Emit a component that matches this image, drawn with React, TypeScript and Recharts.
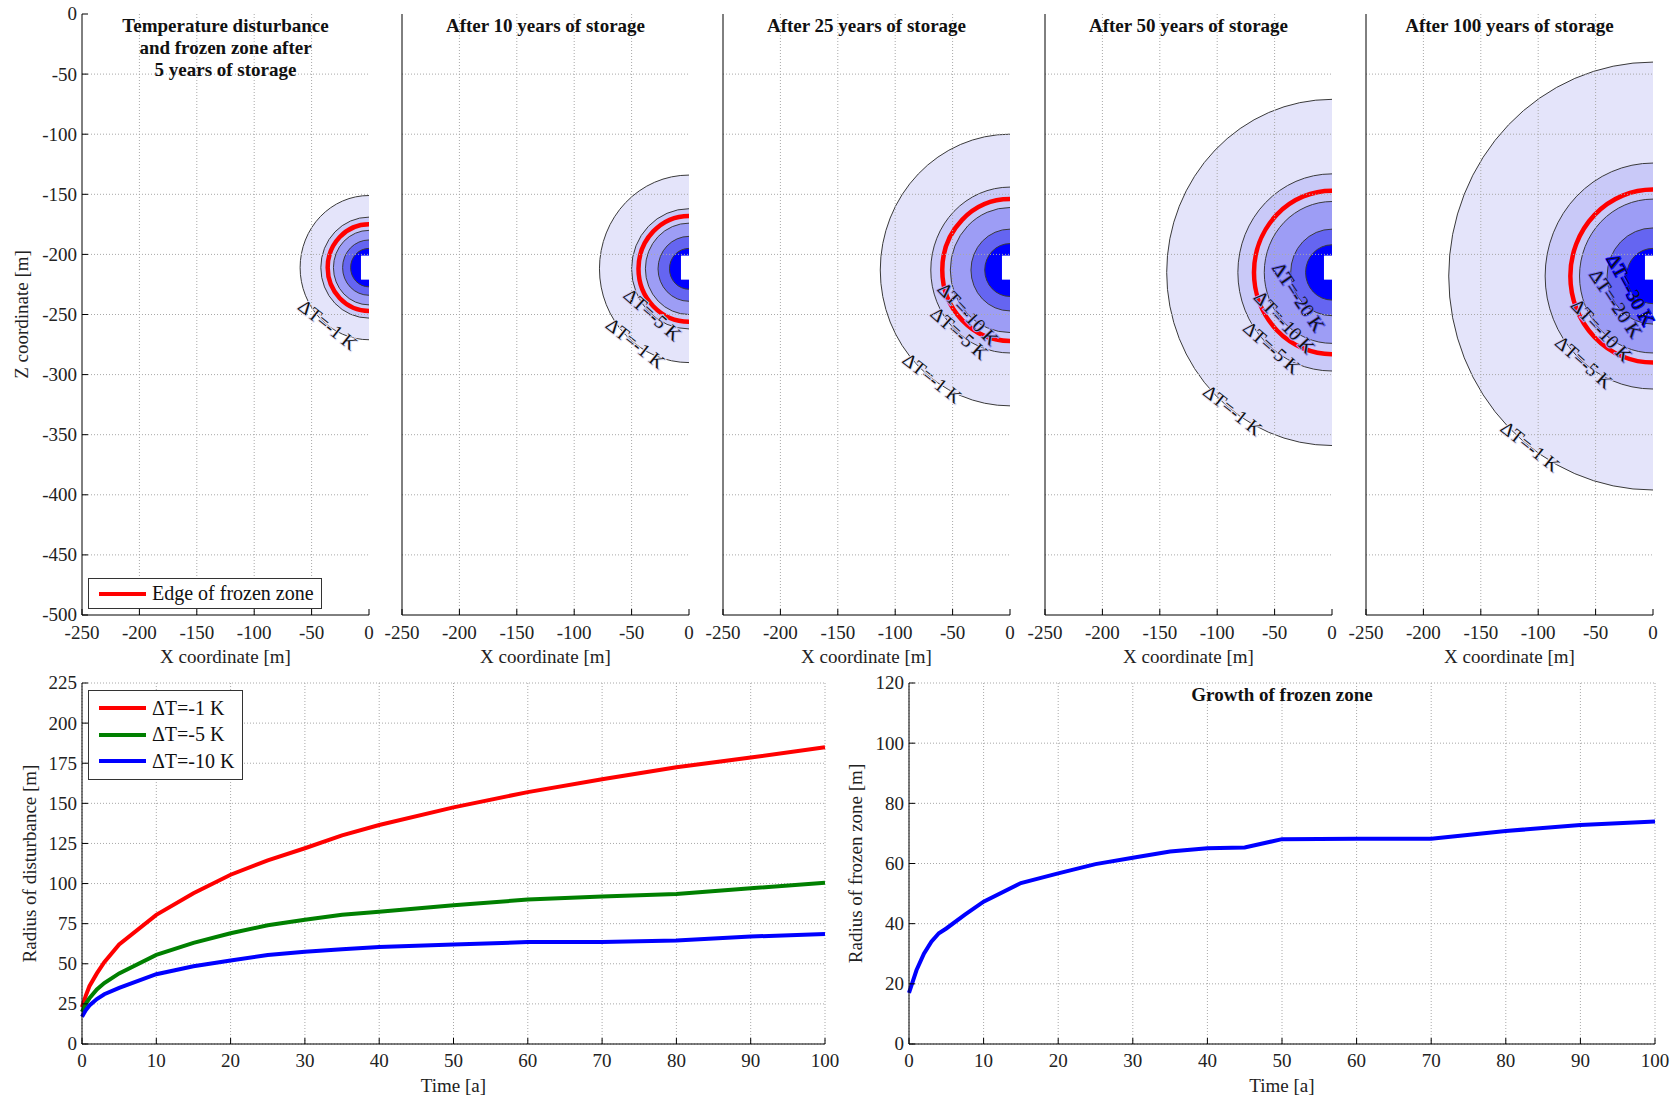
import React from 'react';
import {
  ComposedChart,
  LineChart,
  Line,
  XAxis,
  YAxis,
  CartesianGrid,
  ReferenceArea,
  ReferenceLine,
  Legend,
} from 'recharts';

const FONT = '"Liberation Serif", "Times New Roman", Times, serif';

// ---------- top row: isotherms around the repository, one entry per panel ----------
const panelTitles = [
  ['Temperature disturbance', 'and frozen zone after', '5 years of storage'],
  ['After 10 years of storage'],
  ['After 25 years of storage'],
  ['After 50 years of storage'],
  ['After 100 years of storage'],
];
const isotherms = [-1, -5, -10, -20, -30]; // ΔT [K]
const isoCentreZ = [-211, -212, -213, -215, -218];
const radius1K = [60, 78, 113, 144, 178];
const radius5K = [42, 50, 69, 82, 94];
const radius10K = [31, 38, 52, 59, 64];
const radius20K = [23, 27, 34, 36, 40];
const radius30K = [16, 17, 22, 23, 23];
const frozenEdgeRadius = [36, 44, 59, 68, 72];
const labelledIsotherms = [[-1], [-5, -1], [-10, -5, -1], [-20, -10, -5, -1], [-30, -20, -10, -5, -1]];
const repositoryX = [-7, 0];
const repositoryZ = [-221, -201];
const xCoordTicks = [-250, -200, -150, -100, -50, 0];
const zCoordTicks = [0, -50, -100, -150, -200, -250, -300, -350, -400, -450, -500];

const radiiByIsotherm = [radius1K, radius5K, radius10K, radius20K, radius30K];

// ---------- bottom left: radius of disturbance ----------
const timeA = [0, 0.5, 1, 2, 3, 5, 10, 15, 20, 25, 30, 35, 40, 50, 60, 70, 80, 90, 100];
const dist1K = [23, 30, 36, 44, 51, 62, 80.5, 94, 105.5, 114.5, 122, 130, 136.5, 147.5, 157, 165, 172.5, 178.5, 185];
const dist5K = [20, 25, 28.5, 34, 38, 44, 55.5, 63, 69, 74, 77.5, 80.5, 82.5, 86.5, 90, 92, 93.5, 97, 100.5];
const dist10K = [17, 21, 24, 28, 31, 35, 43.5, 48.5, 52, 55.5, 57.5, 59, 60.5, 62, 63.5, 63.5, 64.5, 67, 68.5];
const disturbanceSeries = ['ΔT=-1 K', 'ΔT=-5 K', 'ΔT=-10 K'];
const timeTicks = [0, 10, 20, 30, 40, 50, 60, 70, 80, 90, 100];
const distTicks = [0, 25, 50, 75, 100, 125, 150, 175, 200, 225];

// ---------- bottom right: radius of frozen zone ----------
const frozenT = [0, 1, 2, 3, 4, 5, 7.5, 10, 15, 20, 25, 30, 35, 40, 45, 50, 60, 70, 80, 90, 100];
const frozenR = [17, 24.5, 30, 34, 36.8, 38.4, 43, 47.3, 53.5, 56.7, 59.8, 61.9, 64, 65.1, 65.3, 68.1, 68.2, 68.2, 70.8, 72.8, 74];
const frozenTicks = [0, 20, 40, 60, 80, 100, 120];

const disturbance = timeA.map((t, i) => ({ t, k1: dist1K[i], k5: dist5K[i], k10: dist10K[i] }));
const frozen = frozenT.map((t, i) => ({ t, r: frozenR[i] }));

// ---------- styling / layout ----------
const bandFill = ['#e4e4fa', '#c9c9f8', '#9d9df5', '#6565f1', '#0000ff'];
const labelAngle = [53, 50, 45, 35, 30];
const panelLeft = [82, 402, 723, 1045, 1366];
const TOP_Y = 14;
const TOP_W = 287;
const TOP_H = 601;
const AXIS_W = 80;
const GRID = '#a8a8a8';

const labelStyle = { fill: '#222', fontSize: 19, fontFamily: FONT };

// serif tick text (bottom axes centred below the tick, left axes right-aligned)
const serifTick = (anchor: 'middle' | 'end') => (p: any) => (
  <text
    x={p.x}
    y={p.y}
    dy={anchor === 'middle' ? '0.71em' : '0.34em'}
    textAnchor={anchor}
    fill="#222"
    style={{ fontFamily: FONT, fontSize: 19 }}
  >
    {p.payload.value}
  </text>
);

const halfDisc = (fill: string, stroke: string, width: number, filled = true) => (p: any) => {
  const { x, y, width: w, height: h } = p;
  const arc = `M${x + w},${y} A${w},${h / 2} 0 0 0 ${x + w},${y + h}`;
  return (
    <g>
      {filled && <path d={`${arc} Z`} fill={fill} stroke="none" />}
      <path d={arc} fill="none" stroke={stroke} strokeWidth={width} />
    </g>
  );
};

const contourLabel = (text: string, deg: number, halo: string) => (p: any) => {
  const { x, y, width: w, height: h } = p;
  const a = (deg * Math.PI) / 180;
  const px = x + w - w * Math.cos(a);
  const py = y + h / 2 + (h / 2) * Math.sin(a);
  const rot = (Math.atan2((h / 2) * Math.cos(a), w * Math.sin(a)) * 180) / Math.PI;
  return (
    <g transform={`rotate(${rot} ${px} ${py})`}>
      <text x={px} y={py + 6} textAnchor="middle" style={{ fontFamily: FONT, fontSize: 19 }} fill={halo} stroke={halo} strokeWidth={2}>
        {text}
      </text>
      <text x={px} y={py + 6} textAnchor="middle" style={{ fontFamily: FONT, fontSize: 19 }} fill="#111">
        {text}
      </text>
    </g>
  );
};

function ContourPanel({ i }: { i: number }) {
  const c = isoCentreZ[i];
  return (
    <div style={{ position: 'absolute', left: panelLeft[i] - AXIS_W, top: 0, fontFamily: FONT }}>
      <ComposedChart
        width={AXIS_W + TOP_W + 25}
        height={TOP_Y + TOP_H + 60}
        margin={{ top: TOP_Y, right: 25, bottom: 0, left: 0 }}
        data={[]}
      >
        <XAxis
          type="number"
          dataKey="x"
          domain={[-250, 0]}
          ticks={xCoordTicks}
          allowDataOverflow
          height={60}
          stroke="#000"
          tick={serifTick('middle')}
          tickSize={-6}
          tickMargin={17}
          label={{ value: 'X coordinate [m]', position: 'insideBottom', offset: 12, ...labelStyle }}
        />
        <XAxis xAxisId="top" orientation="top" type="number" domain={[-250, 0]} ticks={xCoordTicks} height={0} tick={false} tickSize={-6} stroke="#000" />
        <YAxis
          type="number"
          domain={[-500, 0]}
          ticks={zCoordTicks}
          allowDataOverflow
          width={AXIS_W}
          stroke="#000"
          tick={i === 0 ? serifTick('end') : false}
          tickSize={-6}
          tickMargin={11}
          label={
            i === 0
              ? { value: 'Z coordinate [m]', angle: -90, position: 'insideLeft', offset: 19, ...labelStyle, style: { textAnchor: 'middle' } }
              : undefined
          }
        />
        <YAxis yAxisId="right" orientation="right" type="number" domain={[-500, 0]} ticks={zCoordTicks} width={0} tick={false} tickSize={-6} stroke="#000" />

        {isotherms.map((t, k) => {
          const r = radiiByIsotherm[k][i];
          return (
            <ReferenceArea
              key={`iso${t}`}
              x1={-r}
              x2={0}
              y1={c - r}
              y2={c + r}
              ifOverflow="visible"
              shape={halfDisc(bandFill[k], '#3a3a3a', 1)}
            />
          );
        })}
        <ReferenceArea
          x1={-frozenEdgeRadius[i]}
          x2={0}
          y1={c - frozenEdgeRadius[i]}
          y2={c + frozenEdgeRadius[i]}
          ifOverflow="visible"
          shape={halfDisc('none', '#ff0000', 4.5, false)}
        />
        <ReferenceArea
          x1={repositoryX[0]}
          x2={repositoryX[1]}
          y1={repositoryZ[0]}
          y2={repositoryZ[1]}
          ifOverflow="visible"
          fill="#ffffff"
          fillOpacity={1}
          stroke="none"
        />

        {xCoordTicks.slice(1, -1).map((v) => (
          <ReferenceLine key={`gx${v}`} x={v} stroke={GRID} strokeDasharray="1 2" />
        ))}
        {zCoordTicks.slice(1, -1).map((v) => (
          <ReferenceLine key={`gz${v}`} y={v} stroke={GRID} strokeDasharray="1 2" />
        ))}

        {labelledIsotherms[i].map((t) => {
          const k = isotherms.indexOf(t);
          const r = radiiByIsotherm[k][i];
          return (
            <ReferenceArea
              key={`lab${t}`}
              x1={-r}
              x2={0}
              y1={c - r}
              y2={c + r}
              ifOverflow="visible"
              shape={contourLabel(`ΔT=${t} K`, labelAngle[k], bandFill[k])}
            />
          );
        })}
      </ComposedChart>
      <div
        style={{
          position: 'absolute',
          left: AXIS_W,
          top: 15,
          width: TOP_W,
          textAlign: 'center',
          fontFamily: FONT,
          fontWeight: 'bold',
          fontSize: 19,
          lineHeight: '22px',
          color: '#111',
        }}
      >
        {panelTitles[i].map((line) => (
          <div key={line}>{line}</div>
        ))}
      </div>
    </div>
  );
}

function DisturbanceLegend({ payload }: any) {
  const items = [...(payload || [])].sort(
    (a: any, b: any) => disturbanceSeries.indexOf(a.value) - disturbanceSeries.indexOf(b.value)
  );
  return (
    <div style={{ border: '1px solid #333', background: '#fff', padding: '4px 8px 4px 10px', fontFamily: FONT, fontSize: 20, color: '#111' }}>
      {items.map((e: any) => (
        <div key={e.value} style={{ display: 'flex', alignItems: 'center', height: 26.5 }}>
          <span style={{ display: 'inline-block', width: 47, height: 4, background: e.color, marginRight: 6 }} />
          {e.value}
        </div>
      ))}
    </div>
  );
}

function DisturbanceChart() {
  const left = 82 - AXIS_W;
  return (
    <div style={{ position: 'absolute', left, top: 640, fontFamily: FONT }}>
      <LineChart width={AXIS_W + 743 + 30} height={43 + 361 + 53} data={disturbance} margin={{ top: 43, right: 30, bottom: 0, left: 0 }}>
        <CartesianGrid stroke={GRID} strokeDasharray="1 2" />
        <XAxis
          type="number"
          dataKey="t"
          domain={[0, 100]}
          ticks={timeTicks}
          height={53}
          stroke="#000"
          tick={serifTick('middle')}
          tickSize={-6}
          tickMargin={16}
          label={{ value: 'Time [a]', position: 'insideBottom', offset: 5, ...labelStyle }}
        />
        <XAxis xAxisId="top" orientation="top" type="number" dataKey="t" domain={[0, 100]} ticks={timeTicks} height={0} tick={false} tickSize={-6} stroke="#000" />
        <YAxis
          type="number"
          domain={[0, 225]}
          ticks={distTicks}
          width={AXIS_W}
          stroke="#000"
          tick={serifTick('end')}
          tickSize={-6}
          tickMargin={11}
          label={{ value: 'Radius of disturbance [m]', angle: -90, position: 'insideLeft', offset: 27, ...labelStyle, style: { textAnchor: 'middle' } }}
        />
        <YAxis yAxisId="right" orientation="right" type="number" domain={[0, 225]} ticks={distTicks} width={0} tick={false} tickSize={-6} stroke="#000" />
        <Line type="linear" dataKey="k1" name={disturbanceSeries[0]} stroke="#ff0000" strokeWidth={4} dot={false} isAnimationActive={false} />
        <Line type="linear" dataKey="k5" name={disturbanceSeries[1]} stroke="#008000" strokeWidth={4} dot={false} isAnimationActive={false} />
        <Line type="linear" dataKey="k10" name={disturbanceSeries[2]} stroke="#0000ff" strokeWidth={4} dot={false} isAnimationActive={false} />
        <Legend
          layout="vertical"
          align="center"
          verticalAlign="middle"
          wrapperStyle={{ left: 88 - left, top: 690 - 640, width: 'auto', height: 'auto' }}
          content={(props: any) => <DisturbanceLegend payload={props.payload} />}
        />
      </LineChart>
    </div>
  );
}

function FrozenChart() {
  const left = 909 - AXIS_W;
  return (
    <div style={{ position: 'absolute', left, top: 640, fontFamily: FONT }}>
      <LineChart width={AXIS_W + 746 + 20} height={43 + 361 + 53} data={frozen} margin={{ top: 43, right: 20, bottom: 0, left: 0 }}>
        <CartesianGrid stroke={GRID} strokeDasharray="1 2" />
        <XAxis
          type="number"
          dataKey="t"
          domain={[0, 100]}
          ticks={timeTicks}
          height={53}
          stroke="#000"
          tick={serifTick('middle')}
          tickSize={-6}
          tickMargin={16}
          label={{ value: 'Time [a]', position: 'insideBottom', offset: 5, ...labelStyle }}
        />
        <XAxis xAxisId="top" orientation="top" type="number" dataKey="t" domain={[0, 100]} ticks={timeTicks} height={0} tick={false} tickSize={-6} stroke="#000" />
        <YAxis
          type="number"
          domain={[0, 120]}
          ticks={frozenTicks}
          width={AXIS_W}
          stroke="#000"
          tick={serifTick('end')}
          tickSize={-6}
          tickMargin={11}
          label={{ value: 'Radius of frozen zone [m]', angle: -90, position: 'insideLeft', offset: 26, ...labelStyle, style: { textAnchor: 'middle' } }}
        />
        <YAxis yAxisId="right" orientation="right" type="number" domain={[0, 120]} ticks={frozenTicks} width={0} tick={false} tickSize={-6} stroke="#000" />
        <Line type="linear" dataKey="r" name="Frozen zone" stroke="#0000ff" strokeWidth={4} dot={false} isAnimationActive={false} />
      </LineChart>
      <div
        style={{
          position: 'absolute',
          left: AXIS_W,
          top: 683 - 640,
          width: 746,
          textAlign: 'center',
          fontFamily: FONT,
          fontWeight: 'bold',
          fontSize: 19,
          lineHeight: '24px',
          color: '#111',
        }}
      >
        Growth of frozen zone
      </div>
    </div>
  );
}

export default function App() {
  return (
    <div style={{ position: 'absolute', left: 0, top: 0, width: 1675, height: 1097, background: '#fff', overflow: 'hidden', fontFamily: FONT }}>
      {panelTitles.map((_, i) => (
        <ContourPanel key={i} i={i} />
      ))}
      <div
        style={{
          position: 'absolute',
          left: 88,
          top: 578,
          width: 234,
          height: 31,
          boxSizing: 'border-box',
          border: '1px solid #333',
          background: '#fff',
          display: 'flex',
          alignItems: 'center',
          fontFamily: FONT,
          fontSize: 20,
          color: '#111',
        }}
      >
        <span style={{ display: 'inline-block', width: 47, height: 4, background: '#ff0000', marginLeft: 10, marginRight: 6 }} />
        Edge of frozen zone
      </div>
      <DisturbanceChart />
      <FrozenChart />
    </div>
  );
}
